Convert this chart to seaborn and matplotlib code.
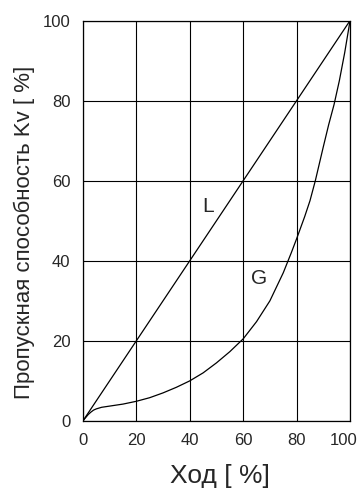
import matplotlib
matplotlib.use("Agg")
import matplotlib.pyplot as plt
import matplotlib.transforms as mtransforms
import seaborn as sns
import pandas as pd

# Data
stroke = [0, 1, 2, 3, 4, 5, 7, 10, 15, 20, 25, 30, 35, 40, 45, 50, 55, 60,
          65, 70, 75, 78, 80, 83, 85, 87, 90, 92, 94, 96, 98, 100]
kv_equal = [0, 0.8, 1.6, 2.2, 2.7, 3.0, 3.4, 3.7, 4.2, 4.9, 5.8, 7.0, 8.4, 10.0,
            12.0, 14.5, 17.3, 20.5, 24.8, 30.0, 37.0, 42.0, 45.5, 51.0, 55.0,
            60.0, 68.5, 74.0, 79.0, 85.0, 92.0, 100]
kv_linear = list(stroke)

ticks = [0, 20, 40, 60, 80, 100]
curve_labels = ["L", "G"]
label_pos = [(46.8, 53.5), (66.0, 35.5)]

df = pd.DataFrame({"x": stroke, "L": kv_linear, "G": kv_equal})

sns.set_style("white")
plt.rcParams["font.family"] = ["Liberation Sans", "DejaVu Sans"]

fig = plt.figure(figsize=(3.62, 4.90), dpi=100)
ax = fig.add_axes([0.229, 0.141, 0.738, 0.817])

sns.lineplot(data=df, x="x", y="L", color="black", linewidth=0.9, ax=ax)
sns.lineplot(data=df, x="x", y="G", color="black", linewidth=0.9, ax=ax)

for name, (tx, ty) in zip(curve_labels, label_pos):
    ax.text(tx, ty, name, fontsize=15, ha="center", va="center")

ax.set_xlim(0, 100)
ax.set_ylim(0, 100)
ax.set_xticks(ticks)
ax.set_yticks(ticks)
ax.grid(True, color="black", linewidth=0.8)
ax.tick_params(length=0, labelsize=12, pad=9)

# last x tick label sits a bit left so it stays inside the figure
last = ax.get_xticklabels()[-1]
last.set_transform(last.get_transform() +
                   mtransforms.ScaledTranslation(-6 / 100, 0, fig.dpi_scale_trans))

for sp in ax.spines.values():
    sp.set_color("black")
    sp.set_linewidth(0.9)

ax.set_xlabel("Ход [ %]", fontsize=19)
ax.set_ylabel("Пропускная способность Kv [ %]", fontsize=16)
ax.xaxis.set_label_coords(0.512, -0.108)
ax.yaxis.set_label_coords(-0.178, 0.47)

fig.savefig("out.png", dpi=100)
plt.close()
